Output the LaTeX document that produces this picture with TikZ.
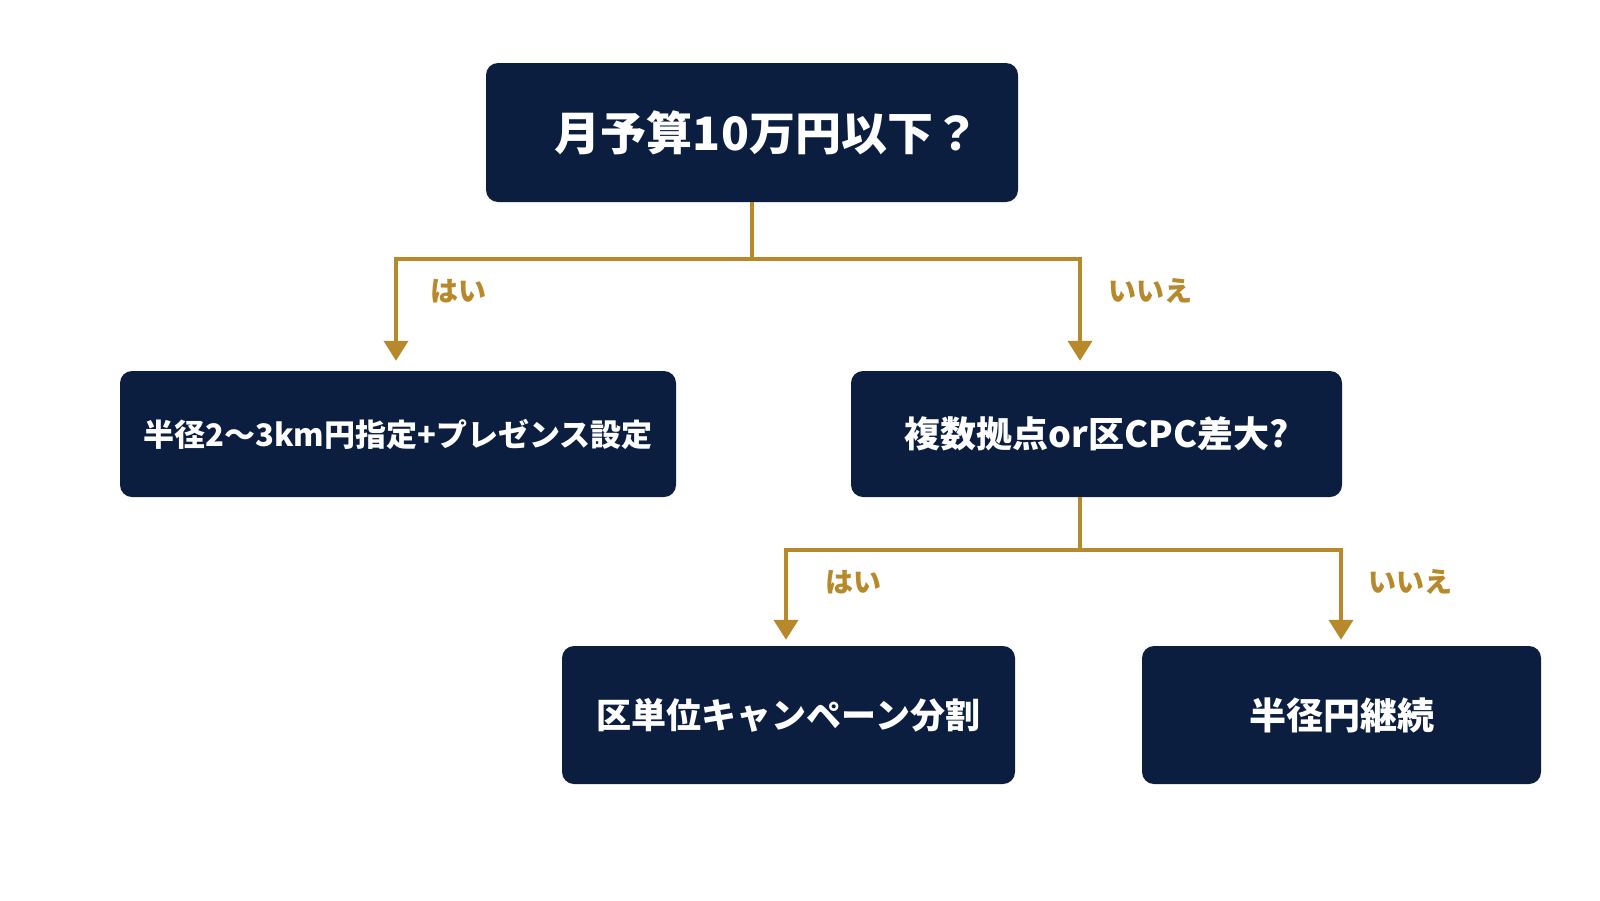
\documentclass[tikz,border=0pt]{standalone}
\usepackage{fontspec}
\newfontfamily\jp{Noto Sans CJK JP}
\usetikzlibrary{arrows.meta,calc}
\definecolor{navy}{HTML}{0B1E40}
\definecolor{gold}{HTML}{B8892B}
\begin{document}
\begin{tikzpicture}[x=1pt,y=-1pt,
  box/.style={draw=none,fill=navy,rounded corners=12pt,text=white,inner sep=0pt,
    font=\jp\bfseries},
  conn/.style={draw=gold,line width=4pt},
  arr/.style={conn,-{Triangle[width=24pt,length=20pt]}},
  lbl/.style={text=gold,font=\jp\bfseries\fontsize{28}{30}\selectfont}]
\useasboundingbox[fill=white] (0,0) rectangle (1600,900);
\node[box,minimum width=532pt,minimum height=139pt,font=\jp\bfseries\fontsize{46}{50}\selectfont] (top) at (752,132.5) {\hspace*{30pt}月予算10万円以下？};
\node[box,minimum width=556pt,minimum height=126pt,font=\jp\bfseries\fontsize{31}{36}\selectfont] (lf) at (398,434) {半径2〜3km円指定+プレゼンス設定};
\node[box,minimum width=491pt,minimum height=126pt,font=\jp\bfseries\fontsize{36}{40}\selectfont] (rt) at (1096.5,434) {複数拠点or区CPC差大?};
\node[box,minimum width=453pt,minimum height=138pt,font=\jp\bfseries\fontsize{35}{40}\selectfont] (bl) at (788.5,715) {区単位キャンペーン分割};
\node[box,minimum width=399pt,minimum height=138pt,font=\jp\bfseries\fontsize{37}{42}\selectfont] (br) at (1341.5,715) {半径円継続};
% level 1
\coordinate (j1) at (752,259);
\draw[conn] (top.south) -- (j1);
\draw[arr] (j1) -| ([xshift=-2pt,yshift=10pt]lf.north);
\draw[arr] (j1) -| ([xshift=-16.5pt,yshift=10pt]rt.north);
\node[lbl] (l1) at (458,291) {はい};
\node[lbl] (l2) at (1150,291) {いいえ};
% level 2
\coordinate (s2) at ([xshift=-16.5pt]rt.south);
\coordinate (j2) at (1080,550);
\draw[conn] (s2) -- (j2);
\draw[arr] (j2) -| ([xshift=-2.5pt,yshift=6pt]bl.north);
\draw[arr] (j2) -| ([xshift=-0.5pt,yshift=6pt]br.north);
\node[lbl] (l3) at (853,582) {はい};
\node[lbl] (l4) at (1410,582) {いいえ};
\end{tikzpicture}
\end{document}
